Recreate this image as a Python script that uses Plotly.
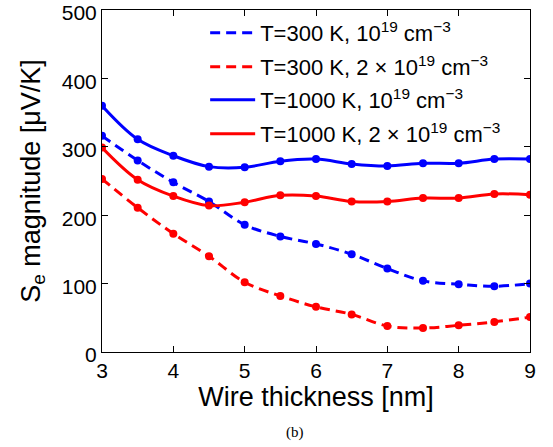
import plotly.graph_objects as go

thickness = [3, 3.5, 4, 4.5, 5, 5.5, 6, 6.5, 7, 7.5, 8, 8.5, 9]
s_300_1e19 = [316, 280, 248, 220, 186, 169, 158, 143, 122, 104, 99, 96, 100]
s_300_2e19 = [253, 211, 173, 140, 102, 82, 66, 55, 38, 35, 39, 44, 51]
s_1000_1e19 = [360, 311, 287, 271, 270, 279, 282, 275, 272, 276, 276, 282, 282]
s_1000_2e19 = [299, 252, 228, 214, 219, 229, 228, 220, 220, 225, 225, 231, 230]

names = [
    "T=300 K, 10<sup>19</sup> cm<sup>\u22123</sup>",
    "T=300 K, 2 \u00d7 10<sup>19</sup> cm<sup>\u22123</sup>",
    "T=1000 K, 10<sup>19</sup> cm<sup>\u22123</sup>",
    "T=1000 K, 2 \u00d7 10<sup>19</sup> cm<sup>\u22123</sup>",
]
series = [s_300_1e19, s_300_2e19, s_1000_1e19, s_1000_2e19]
colors = ["#0000FF", "#FF0000", "#0000FF", "#FF0000"]
dashes = ["10px,6px", "10px,6px", "solid", "solid"]
legend_ids = ["legend", "legend2", "legend3", "legend4"]
legend_rows = [0.9327, 0.8333, 0.7368, 0.6374]

fig = go.Figure()
for name, ys, c, d, lg in zip(names, series, colors, dashes, legend_ids):
    fig.add_trace(go.Scatter(x=thickness, y=ys, mode="lines", name=name, legend=lg, showlegend=True,
                             line=dict(color=c, width=3, dash=d, shape="spline", smoothing=1.0)))
for ys, c in zip(series, colors):
    fig.add_trace(go.Scatter(x=thickness, y=ys, mode="markers", showlegend=False,
                             marker=dict(color=c, size=8)))

axis_common = dict(showline=True, linecolor="black", linewidth=1, mirror="ticks",
                   ticks="inside", ticklen=6, tickcolor="black", showgrid=False, zeroline=False,
                   automargin=False, ticklabeloverflow="allow",
                   tickfont=dict(size=21, color="black"))
fig.update_xaxes(range=[3, 9], dtick=1,
                 title=dict(text="Wire thickness [nm]", font=dict(size=27, color="black"), standoff=2), **axis_common)
fig.update_yaxes(range=[0, 500], dtick=100, ticklabelshift=3,
                 title=dict(text="S<sub>e</sub> magnitude [\u03bcV/K]", font=dict(size=27, color="black"), standoff=13), **axis_common)

legend_style = dict(x=0.241, xanchor="left", yanchor="middle", bgcolor="rgba(0,0,0,0)",
                    font=dict(size=22), itemwidth=45)
layout_legends = {lg: dict(y=yv, **legend_style) for lg, yv in zip(legend_ids, legend_rows)}

fig.update_layout(
    template="none",
    width=553, height=447,
    margin=dict(l=102, r=23, t=10, b=95),
    paper_bgcolor="white", plot_bgcolor="white",
    font=dict(family="Liberation Sans, Arial", color="black"),
    showlegend=True,
    annotations=[dict(text="(b)", x=0.451, y=-0.234, xref="paper", yref="paper", showarrow=False,
                      xanchor="center", yanchor="middle",
                      font=dict(family="Liberation Serif, Times New Roman", size=15, color="black"))],
    **layout_legends,
)
fig.write_html("out.html", config={"displayModeBar": False},
               post_script="document.body.style.margin='0';")
